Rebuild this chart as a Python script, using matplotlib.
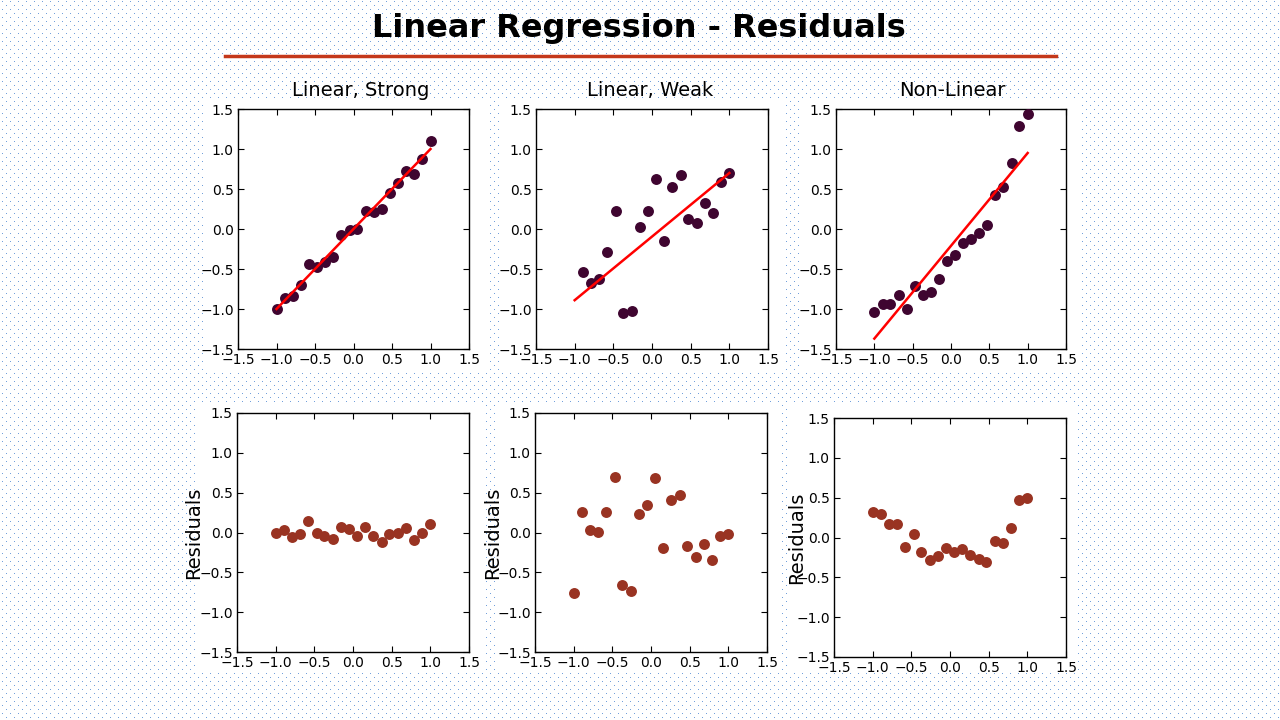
import numpy as np
import matplotlib
matplotlib.use("Agg")
import matplotlib.pyplot as plt
from matplotlib.patches import Rectangle
from matplotlib.lines import Line2D

# ---------------- data ----------------
x_vals = [-1.0, -0.89, -0.79, -0.68, -0.58, -0.47, -0.37, -0.26, -0.16, -0.05,
          0.05, 0.16, 0.26, 0.37, 0.47, 0.58, 0.68, 0.79, 0.89, 1.0]

y_strong = [-1.00, -0.86, -0.84, -0.70, -0.44, -0.47, -0.41, -0.35, -0.08, -0.01,
            0.00, 0.22, 0.21, 0.25, 0.45, 0.57, 0.73, 0.69, 0.87, 1.10]
y_weak = [-1.65, -0.54, -0.68, -0.625, -0.29, 0.23, -1.05, -1.03, 0.02, 0.225,
          0.63, -0.15, 0.53, 0.68, 0.125, 0.07, 0.32, 0.20, 0.59, 0.695]
y_nonlin = [-1.04, -0.94, -0.94, -0.82, -1.00, -0.71, -0.82, -0.79, -0.62, -0.40,
            -0.33, -0.17, -0.12, -0.05, 0.045, 0.42, 0.52, 0.83, 1.29, 1.44]

res_strong = [-0.01, 0.03, -0.06, -0.025, 0.14, 0.00, -0.04, -0.08, 0.075, 0.04,
              -0.05, 0.065, -0.04, -0.12, -0.02, 0.00, 0.055, -0.10, -0.01, 0.11]
res_weak = [-0.76, 0.26, 0.03, 0.01, 0.26, 0.70, -0.665, -0.735, 0.23, 0.35,
            0.68, -0.19, 0.405, 0.47, -0.17, -0.31, -0.14, -0.35, -0.04, -0.02]
res_nonlin = [0.32, 0.30, 0.175, 0.175, -0.12, 0.04, -0.185, -0.28, -0.23, -0.135,
              -0.185, -0.14, -0.22, -0.27, -0.305, -0.04, -0.065, 0.125, 0.465, 0.50]

# fitted regression lines: value at x=-1 and x=1
line_x = [-1.0, 1.0]
fit_strong = [-1.00, 1.00]
fit_weak = [-0.89, 0.70]
fit_nonlin = [-1.37, 0.95]

titles = ["Linear, Strong", "Linear, Weak", "Non-Linear"]
main_title = "Linear Regression - Residuals"
ticks = [-1.5, -1.0, -0.5, 0.0, 0.5, 1.0, 1.5]
tick_labels = ["\u22121.5", "\u22121.0", "\u22120.5", "0.0", "0.5", "1.0", "1.5"]

W, H = 1280, 720
fig = plt.figure(figsize=(12.8, 7.2), dpi=100)

# ---------------- dotted background ----------------
bg = np.ones((H, W, 3))
dot_col = np.array([0.45, 0.63, 0.86])
for r in range(1, H, 4):
    off = 4 if (r // 4) % 2 else 0
    bg[r, off + 2::8] = dot_col
fig.figimage(bg, 0, 0, zorder=0)

def px_rect(x0, y0, x1, y1):
    fig.add_artist(Rectangle((x0 / W, 1 - y1 / H), (x1 - x0) / W, (y1 - y0) / H,
                             transform=fig.transFigure, facecolor="white",
                             edgecolor="none", zorder=0.5))

# white backgrounds behind panels
for (x0, y0, x1, y1) in [(205, 100, 488, 372), (500, 100, 783, 372), (800, 100, 1080, 372),
                         (198, 403, 485, 672), (495, 403, 780, 672), (790, 403, 1078, 672)]:
    px_rect(x0, y0, x1, y1)

# title & underline
fig.text(639 / W, 1 - 29 / H, main_title, ha="center", va="center",
         fontsize=23, fontweight="bold", family="DejaVu Sans", zorder=3)
fig.add_artist(Line2D([225 / W, 1056 / W], [1 - 56 / H, 1 - 56 / H],
                      transform=fig.transFigure, color="#c4381a", lw=2.5, zorder=3))

def make_ax(x0, y0, x1, y1):
    ax = fig.add_axes([x0 / W, 1 - y1 / H, (x1 - x0) / W, (y1 - y0) / H])
    ax.set_xlim(-1.5, 1.5)
    ax.set_ylim(-1.5, 1.5)
    ax.set_xticks(ticks)
    ax.set_yticks(ticks)
    ax.set_xticklabels(tick_labels)
    ax.set_yticklabels(tick_labels)
    ax.tick_params(direction="in", top=True, right=True, length=4, width=0.8,
                   labelsize=10, pad=3, colors="black")
    for s in ax.spines.values():
        s.set_linewidth(1.0)
        s.set_color("black")
    ax.set_zorder(2)
    return ax

top_boxes = [(238, 109, 469, 349), (536, 109, 768, 349), (836, 109, 1066, 349)]
bot_boxes = [(237, 413, 469, 652), (535, 413, 767, 652), (834, 418, 1066, 657)]
ylabel_x = [-0.147, -0.142, -0.12]
ys = [y_strong, y_weak, y_nonlin]
fits = [fit_strong, fit_weak, fit_nonlin]
res = [res_strong, res_weak, res_nonlin]
title_x = [361, 650, 952]

pt_col = "#3f0530"
res_col = "#993322"

for i in range(3):
    ax = make_ax(*top_boxes[i])
    ax.scatter(x_vals, ys[i], s=62, color=pt_col, linewidths=0, zorder=3)
    ax.plot(line_x, fits[i], color="red", lw=1.8, zorder=4)
    fig.text(title_x[i] / W, 1 - 90 / H, titles[i], ha="center", va="center",
             fontsize=14, family="DejaVu Sans", zorder=3)

    ax2 = make_ax(*bot_boxes[i])
    ax2.scatter(x_vals, res[i], s=62, color=res_col, linewidths=0, zorder=3)
    ax2.set_ylabel("Residuals", fontsize=14)
    ax2.yaxis.set_label_coords(ylabel_x[i], 0.5)

fig.savefig("out.png", dpi=100)
